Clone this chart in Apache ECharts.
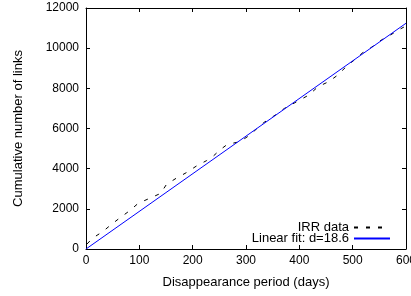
<!DOCTYPE html>
<html><head><meta charset="utf-8">
<script src="https://cdn.jsdelivr.net/npm/echarts@6/dist/echarts.min.js"></script>
<style>html,body{margin:0;padding:0;background:#fff}#c{width:411px;height:296px}</style>
</head><body><div id="c"></div>
<script>
const xTicks = [0,100,200,300,400,500,600];
const yTicks = [0,2000,4000,6000,8000,10000,12000];
const irrDays = [2,12,31,48,64,81,98,119,140,151,169,188,207,226,236,251,265,288,305,333,355,372,399,418,435,455,471,488,503,517,535,554,571,589,596];
const irrLinks = [250,533,860,1230,1560,1890,2275,2520,2770,3220,3520,3800,4130,4400,4560,4930,5210,5340,5630,6290,6670,7000,7390,7670,8080,8330,8640,9080,9410,9740,10040,10410,10660,10950,11050];
const fitDays = [0,600];
const fitLinks = [0,11240];
const seriesNames = ['IRR data','Linear fit: d=18.6'];

const font = 'Liberation Sans, Arial, sans-serif';
const chart = echarts.init(document.getElementById('c'));
const common = () => ({
  axisLine:{show:true,onZero:false,lineStyle:{color:'#000',width:1}},
  axisTick:{show:true,inside:true,length:4,lineStyle:{color:'#000'}},
  splitLine:{show:false}
});
const fmt = v => String(v);
chart.setOption({
  animation:false,
  grid:{left:86,right:5,top:8,bottom:47,containLabel:false,outerBoundsMode:'none'},
  legend:{
    orient:'vertical', right:20, top:221, align:'right', padding:0,
    itemWidth:36, itemHeight:10, itemGap:-2,
    itemStyle:{opacity:0},
    textStyle:{fontFamily:font,fontSize:13,color:'#000'},
    data:seriesNames
  },
  xAxis:[
    Object.assign({type:'value',min:xTicks[0],max:xTicks[xTicks.length-1],interval:100,
      name:'Disappearance period (days)',nameLocation:'middle',nameGap:27,
      nameTextStyle:{fontFamily:font,fontSize:13,color:'#000'},
      axisLabel:{fontFamily:font,fontSize:12,color:'#000',margin:6,formatter:fmt}},common()),
    Object.assign({type:'value',position:'top',min:0,max:600,interval:100,axisLabel:{show:false}},common())
  ],
  yAxis:[
    Object.assign({type:'value',min:yTicks[0],max:yTicks[yTicks.length-1],interval:2000,
      name:'Cumulative number of links',nameLocation:'middle',nameGap:61,
      nameTextStyle:{fontFamily:font,fontSize:13,color:'#000'},
      axisLabel:{fontFamily:font,fontSize:12,color:'#000',margin:7,formatter:fmt}},common()),
    Object.assign({type:'value',position:'right',min:0,max:12000,interval:2000,axisLabel:{show:false}},common())
  ],
  series:[
    {name:seriesNames[0],type:'line',symbol:'none',
     data:irrDays.map((d,i)=>[d,irrLinks[i]]),
     lineStyle:{color:'#000',width:1,type:[4,8]},itemStyle:{color:'#000'}},
    {name:seriesNames[1],type:'line',symbol:'none',
     data:fitDays.map((d,i)=>[d,fitLinks[i]]),
     lineStyle:{color:'#0000ff',width:1},itemStyle:{color:'#0000ff'}}
  ]
});
</script></body></html>
